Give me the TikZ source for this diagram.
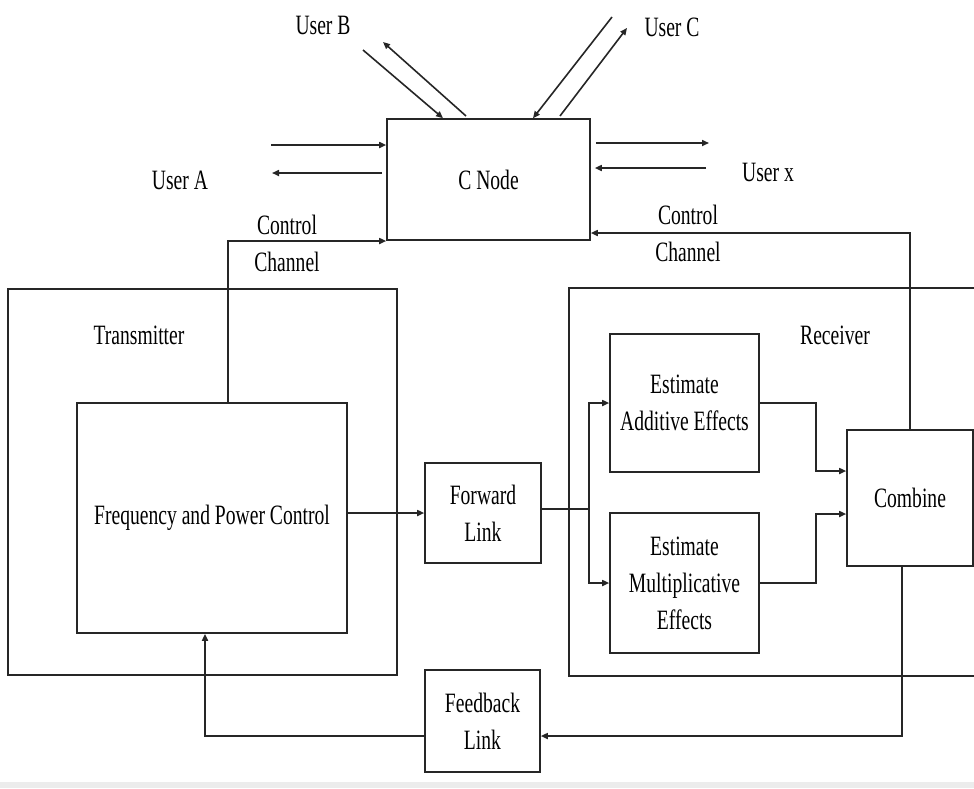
\documentclass[tikz,border=0pt]{standalone}
\usepackage{fontspec}
\setmainfont{Liberation Serif}[FakeStretch=0.7]
\usetikzlibrary{arrows.meta,calc}
\begin{document}
\begin{tikzpicture}[x=1pt,y=-1pt,
  line/.style={draw=black!85, line width=1.6pt},
  arr/.style={line, -{Triangle[length=7pt,width=6pt]}},
  box/.style={line, rectangle, inner sep=0pt, align=center, font=\fontsize{28}{37}\selectfont},
  lbl/.style={inner sep=0pt, align=center, font=\fontsize{28}{37}\selectfont}]
\useasboundingbox (0,0) rectangle (974,788);
\clip (0,0) rectangle (974,788);
\fill[gray!15] (0,782) rectangle (974,788);

% boxes
\node[box, minimum width=203pt, minimum height=121pt] (cnode) at (488.5,179.5) {C Node};
\node[box, minimum width=389pt, minimum height=386pt] (tx) at (202.5,482) {};
\node[box, minimum width=270pt, minimum height=230pt] (fpc) at (212,518) {Frequency and Power Control};
\node[box, minimum width=116pt, minimum height=100pt] (fwd) at (483,513) {Forward\\Link};
\node[box, minimum width=421pt, minimum height=388pt] (rx) at (779.5,482) {};
\node[box, minimum width=149pt, minimum height=138pt] (add) at (684.5,403) {Estimate\\Additive Effects};
\node[box, minimum width=149pt, minimum height=140pt] (mul) at (684.5,583) {Estimate\\Multiplicative\\Effects};
\node[box, minimum width=126pt, minimum height=136pt] (comb) at (910,498) {Combine};
\node[box, minimum width=115pt, minimum height=102pt] (fb) at (482.5,721) {Feedback\\Link};

% labels
\node[lbl] (ub) at (323,25) {User B};
\node[lbl] (uc) at (672,27) {User C};
\node[lbl] (ua) at (180,180) {User A};
\node[lbl] (ux) at (768,172) {User x};
\node[lbl] (txl) at (139,335) {Transmitter};
\node[lbl] (rxl) at (835,335) {Receiver};
\node[lbl] (ccl) at (287,243) {Control\\Channel};
\node[lbl] (ccr) at (688,233.5) {Control\\Channel};

% free ends
\coordinate (b1) at (363,50);
\coordinate (b2) at (383,42);
\coordinate (c1) at (612,17);
\coordinate (c2) at (627,28);
\coordinate (a1) at (271,145);
\coordinate (a2) at (272,173);
\coordinate (x1) at (709,143);
\coordinate (x2) at (706,168);
\coordinate (split) at (589,509);

% user arrows
\draw[arr] (b1) -- (cnode.north -| 443,0);
\draw[arr] (466,116) coordinate (b0) (b0) -- (b2);
\draw[arr] (c1) -- (cnode.north -| 533,0);
\draw[arr] (560,116) coordinate (c0) (c0) -- (c2);
\draw[arr] (a1) -- (cnode.west |- a1);
\draw[arr, shorten <=4pt] (cnode.west |- a2) -- (a2);
\draw[arr, shorten <=5pt] (cnode.east |- x1) -- (x1);
\draw[arr, shorten >=4pt] (x2) -- (cnode.east |- x2);

% control channels
\draw[arr] (fpc.north -| 228,0) |- (cnode.west |- 0,241);
\draw[arr] (comb.north) |- (cnode.east |- 0,233);

% forward path
\draw[arr] (fpc.east |- fwd.west) -- (fwd.west);
\draw[line] (fwd.east |- split) -- (split);
\draw[arr] (split) |- (add.west);
\draw[arr] (split) |- (mul.west);
\draw[arr] (add.east) -- (add.east -| 816,0) |- (comb.west |- 0,471);
\draw[arr] (mul.east) -- (mul.east -| 816,0) |- (comb.west |- 0,514);

% feedback
\draw[arr] (comb.south -| 902,0) |- (fb.east |- 0,736);
\draw[arr] (fb.west |- 0,736) -| (fpc.south -| 205,0);
\end{tikzpicture}
\end{document}
